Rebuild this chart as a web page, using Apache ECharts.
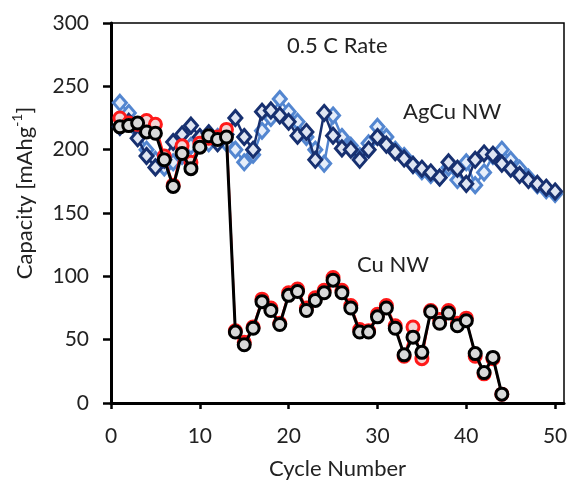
<!DOCTYPE html>
<html>
<head>
<meta charset="utf-8">
<script src="https://cdn.jsdelivr.net/npm/echarts@6/dist/echarts.min.js"></script>
<style>html,body{margin:0;padding:0;background:#fff}#c{width:568px;height:482px}</style>
</head>
<body>
<div id="c"></div>
<script>
var cyclesAgCu = [1,2,3,4,5,6,7,8,9,10,11,12,13,14,15,16,17,18,19,20,21,22,23,24,25,26,27,28,29,30,31,32,33,34,35,36,37,38,39,40,41,42,43,44,45,46,47,48,49,50];
var agcuRun1 = [237,229,215,200,192,186,190,195,203,208,205,210,205,200,190,196,215,225,240,230,222,210,200,189,227,210,203,195,205,218,210,200,195,188,183,180,178,186,176,190,172,182,195,200,192,185,178,172,168,165];
var agcuRun2 = [218,222,209,195,186,192,206,212,219,210,213,205,212,225,210,200,230,231,227,222,211,214,192,229,211,201,200,192,200,210,204,198,193,188,185,182,178,190,185,173,192,197,196,189,185,180,176,173,170,167];
var cyclesCu = [1,2,3,4,5,6,7,8,9,10,11,12,13,14,15,16,17,18,19,20,21,22,23,24,25,26,27,28,29,30,31,32,33,34,35,36,37,38,39,40,41,42,43,44];
var cuRun1 = [225,221,220,223,220,195,172,203,190,205,209,210,216,57,48,60,82,75,63,87,90,75,83,89,99,89,77,58,57,70,77,61,37,60,35,73,66,73,63,67,37,23,35,7];
var cuRun2 = [218,219,221,214,213,192,171,197,185,202,211,208,210,56,46,59,80,73,62,85,88,73,81,87,97,87,75,56,56,68,75,59,38,52,40,72,63,71,61,65,39,24,36,7];
var xTicks = [0,10,20,30,40,50];

function pairs(xs, ys){ return xs.map(function(x,i){ return [x, ys[i]]; }); }

var FONT = 'Lato';
var TXT = '#222';
var chart = echarts.init(document.getElementById('c'));
chart.setOption({
  animation: false,
  backgroundColor: '#fff',
  grid: { left: 111, right: 4, top: 23, bottom: 79, outerBoundsMode: 'none', containLabel: false, show: true, borderColor: '#000', borderWidth: 1.5, backgroundColor: 'transparent' },
  xAxis: {
    type: 'value', min: 0, max: 51,
    name: 'Cycle Number', nameLocation: 'middle', nameGap: 55,
    nameTextStyle: { fontFamily: FONT, fontSize: 22, color: TXT },
    axisLine: { show: true, onZero: false, lineStyle: { color: '#000', width: 3 } },
    axisTick: { show: true, length: 6, customValues: xTicks, lineStyle: { color: '#000', width: 2.5 } },
    axisLabel: { customValues: xTicks, margin: 23, fontFamily: FONT, fontSize: 21, color: TXT },
    splitLine: { show: false }
  },
  yAxis: {
    type: 'value', min: 0, max: 300, interval: 50,
    axisLine: { show: true, lineStyle: { color: '#000', width: 3 } },
    axisTick: { show: true, length: 8, inside: false, lineStyle: { color: '#000', width: 2.5 } },
    axisLabel: { margin: 22, fontFamily: FONT, fontSize: 21, color: TXT },
    splitLine: { show: false }
  },
  graphic: [
    { type: 'text', x: 23, y: 193, rotation: Math.PI / 2,
      style: { text: '{a|Capacity [mAhg}{s|-1}{a|]}', align: 'center', verticalAlign: 'middle',
        rich: { a: { fontFamily: FONT, fontSize: 22, fill: TXT, lineHeight: 26, verticalAlign: 'bottom' },
                s: { fontFamily: FONT, fontSize: 14, fill: TXT, lineHeight: 26, verticalAlign: 'top' } } } },
    { type: 'text', left: 287, top: 35, style: { text: '0.5 C Rate', font: '22px Lato', fill: TXT } },
    { type: 'text', left: 403, top: 101, style: { text: 'AgCu NW', font: '22px Lato', fill: TXT } },
    { type: 'text', left: 357, top: 254, style: { text: 'Cu NW', font: '22px Lato', fill: TXT } }
  ],
  series: [
    { name: 'AgCu NW run 1', type: 'line', data: pairs(cyclesAgCu, agcuRun1), symbol: 'diamond', symbolSize: [13,15],
      lineStyle: { color: '#5386D0', width: 2.5 }, itemStyle: { color: '#e6eefa', borderColor: '#5386D0', borderWidth: 3 }, z: 2 },
    { name: 'AgCu NW run 2', type: 'line', data: pairs(cyclesAgCu, agcuRun2), symbol: 'diamond', symbolSize: [13,15],
      lineStyle: { color: '#173070', width: 2.5 }, itemStyle: { color: '#dfe5f2', borderColor: '#173070', borderWidth: 3 }, z: 3 },
    { name: 'Cu NW run 1', type: 'line', data: pairs(cyclesCu, cuRun1), symbol: 'circle', symbolSize: 12,
      lineStyle: { color: '#ff1a1a', width: 2 }, itemStyle: { color: '#f3d6d6', borderColor: '#ff1a1a', borderWidth: 3 }, z: 4 },
    { name: 'Cu NW run 2', type: 'line', data: pairs(cyclesCu, cuRun2), symbol: 'circle', symbolSize: 12,
      lineStyle: { color: '#000', width: 3 }, itemStyle: { color: '#d9d9d9', borderColor: '#000', borderWidth: 3 }, z: 5 }
  ]
});
</script>
</body>
</html>
